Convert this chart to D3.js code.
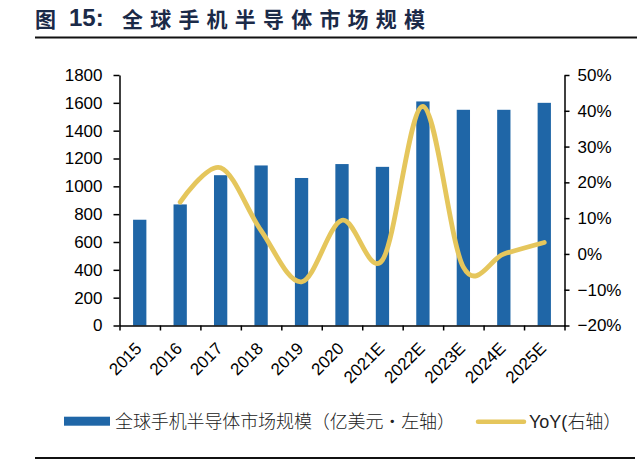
<!DOCTYPE html>
<html>
<head>
<meta charset="utf-8">
<script src="https://cdn.jsdelivr.net/npm/d3@7"></script>
<style>
  body { margin: 0; background: #fff; }
  svg { display: block; }
</style>
</head>
<body>
<svg id="chart"></svg>
<script>
// chart data
const years = ["2015", "2016", "2017", "2018", "2019", "2020", "2021E", "2022E", "2023E", "2024E", "2025E"];
const marketSize = [760, 870, 1080, 1150, 1060, 1160, 1140, 1610, 1550, 1550, 1600];
const yoy = [null, 0.145, 0.241, 0.065, -0.078, 0.094, -0.017, 0.412, -0.037, 0.0, 0.032];
const leftTicks = [0, 200, 400, 600, 800, 1000, 1200, 1400, 1600, 1800];
const rightTicks = [-0.2, -0.1, 0, 0.1, 0.2, 0.3, 0.4, 0.5];

function drawChart() {
    const width = 640;
    const height = 460;
    const plot = { left: 119.5, right: 564.5, top: 75, bottom: 325.5 };
    const latin = "'Liberation Sans', Arial, sans-serif";
    const barColor = "#1f66a7";
    const lineColor = "#e5c65c";

    const svg = d3.select("#chart")
        .attr("width", width)
        .attr("height", height);

    // Title and rules
    const title = svg.append("g").attr("fill", "#1b2a48").style("font-weight", "bold");
    title.append("text").attr("x", 35).attr("y", 27)
        .style("font-family", "'Noto Sans CJK SC', sans-serif").style("font-size", "21px")
        .text("图");
    title.append("text").attr("x", 69).attr("y", 26)
        .style("font-family", latin).style("font-size", "24px")
        .text("15:");
    title.append("text").attr("x", 122).attr("y", 27)
        .style("font-family", "'Noto Sans CJK SC', sans-serif").style("font-size", "21px")
        .style("letter-spacing", "7.2px")
        .text("全球手机半导体市场规模");

    svg.append("line").attr("x1", 35).attr("x2", 637).attr("y1", 37.5).attr("y2", 37.5)
        .attr("stroke", "#111").attr("stroke-width", 2);
    svg.append("line").attr("x1", 35).attr("x2", 635).attr("y1", 458).attr("y2", 458)
        .attr("stroke", "#111").attr("stroke-width", 2);

    // Scales
    const x = d3.scaleBand().domain(years).range([plot.left, plot.right]).paddingInner(0).paddingOuter(0);
    const xEdge = d3.scaleLinear().domain([0, years.length]).range([plot.left, plot.right]);
    const yLeft = d3.scaleLinear().domain([0, 1800]).range([plot.bottom, plot.top]);
    const yRight = d3.scaleLinear().domain([-0.2, 0.5]).range([plot.bottom, plot.top]);
    const barWidth = 13.3;

    // Bars
    svg.append("g")
        .selectAll("rect")
        .data(marketSize)
        .join("rect")
        .attr("x", (d, i) => x(years[i]) + x.bandwidth() / 2 - barWidth / 2)
        .attr("y", d => yLeft(d))
        .attr("width", barWidth)
        .attr("height", d => yLeft(0) - yLeft(d))
        .attr("fill", barColor);

    // YoY smoothed line
    const line = d3.line()
        .defined(d => d.v !== null)
        .x(d => x(d.year) + x.bandwidth() / 2)
        .y(d => yRight(d.v))
        .curve(d3.curveCardinal.tension(0));

    svg.append("path")
        .datum(years.map((year, i) => ({ year, v: yoy[i] })))
        .attr("d", line)
        .attr("fill", "none")
        .attr("stroke", lineColor)
        .attr("stroke-width", 4.8)
        .attr("stroke-linecap", "round");

    // Axes
    const leftAxis = svg.append("g")
        .attr("transform", `translate(${plot.left},0)`)
        .call(d3.axisLeft(yLeft).tickValues(leftTicks).tickSize(6).tickSizeOuter(0).tickPadding(11)
            .tickFormat(d3.format("d")));

    const rightAxis = svg.append("g")
        .attr("transform", `translate(${plot.right},0)`)
        .call(d3.axisRight(yRight).tickValues(rightTicks).tickSize(5).tickSizeOuter(0).tickPadding(8)
            .tickFormat(d3.format(".0%")));

    const bottomAxis = svg.append("g")
        .attr("transform", `translate(0,${plot.bottom})`)
        .call(d3.axisBottom(xEdge).tickValues(d3.range(0, years.length + 1)).tickSize(5)
            .tickSizeOuter(0).tickFormat(""));

    [leftAxis, rightAxis, bottomAxis].forEach(g => {
        g.selectAll("path, line").attr("stroke", "#000").attr("stroke-width", 1.5);
        g.selectAll("text")
            .attr("fill", "#000")
            .style("font-family", latin)
            .style("font-size", "17px");
    });

    // Rotated category labels
    svg.append("g")
        .selectAll("text")
        .data(years)
        .join("text")
        .attr("transform", d => `translate(${x(d) + x.bandwidth() / 2 + 3},${plot.bottom + 24}) rotate(-45)`)
        .attr("text-anchor", "end")
        .style("font-family", latin)
        .style("font-size", "17px")
        .attr("fill", "#000")
        .text(d => d);

    // Legend
    const legend = svg.append("g");
    legend.append("rect")
        .attr("x", 64).attr("y", 416.7).attr("width", 46).attr("height", 9)
        .attr("fill", barColor);
    legend.append("text")
        .attr("x", 115).attr("y", 428)
        .style("font-family", "'Noto Sans CJK SC', sans-serif")
        .style("font-size", "18px")
        .style("font-weight", 300)
        .attr("textLength", 340)
        .attr("lengthAdjust", "spacing")
        .attr("fill", "#222")
        .text("全球手机半导体市场规模（亿美元·左轴）");

    legend.append("line")
        .attr("x1", 478).attr("x2", 524).attr("y1", 421.7).attr("y2", 421.7)
        .attr("stroke", lineColor).attr("stroke-width", 4.5).attr("stroke-linecap", "round");
    legend.append("text")
        .attr("x", 529).attr("y", 428)
        .style("font-size", "18px")
        .attr("fill", "#222")
        .call(t => {
            t.append("tspan").style("font-family", latin).text("YoY(");
            t.append("tspan").style("font-family", "'Noto Sans CJK SC', sans-serif").style("font-weight", 300).text("右轴）");
        });
}

window.addEventListener("load", drawChart);
</script>
</body>
</html>
